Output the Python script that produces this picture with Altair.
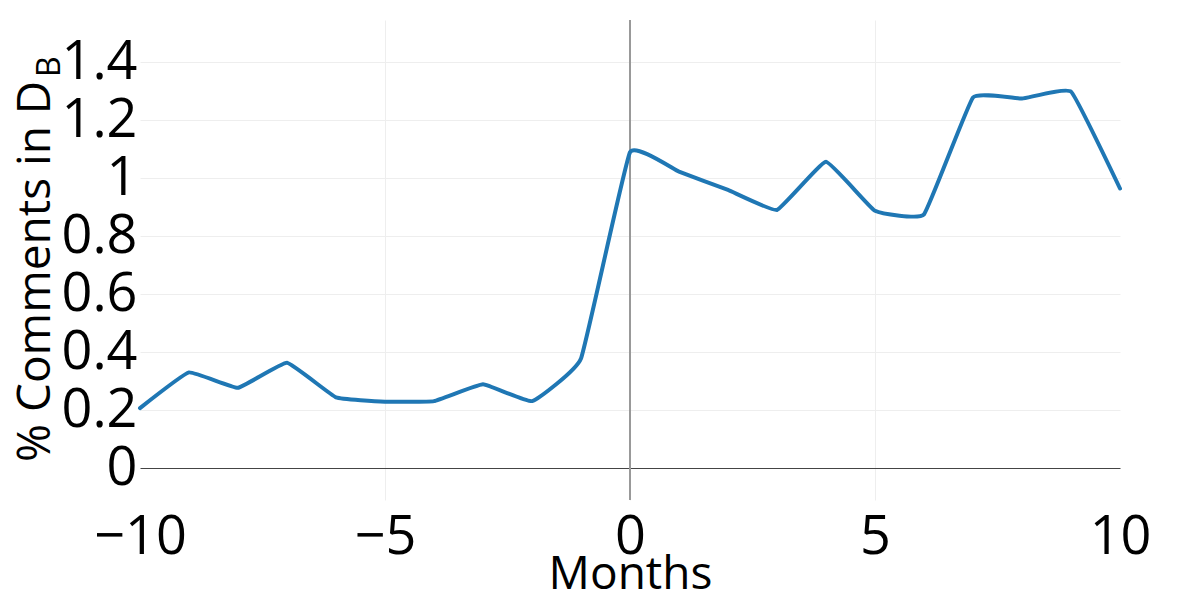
import altair as alt
import pandas as pd

# ---- data ----
months = list(range(-10, 11))
pct = [0.207, 0.330, 0.277, 0.363, 0.244, 0.229, 0.231, 0.289, 0.231, 0.378,
       1.089, 1.022, 0.959, 0.890, 1.056, 0.887, 0.875, 1.278, 1.274, 1.298, 0.964]
x_ticks = [-10, -5, 0, 5, 10]
y_ticks = [0, 0.2, 0.4, 0.6, 0.8, 1.0, 1.2, 1.4]
x_title = "Months"
y_title = "% Comments in D"
y_title_sub = "B"
event_month = [0]

df = pd.DataFrame({"month": months, "pct": pct})
ref_df = pd.DataFrame({"month": event_month})
ytitle_df = pd.DataFrame({"t": [y_title]})
ysub_df = pd.DataFrame({"t": [y_title_sub]})

FONT = "Open Sans"

x_scale = alt.Scale(domain=[-10, 10], nice=False, zero=False)
y_scale = alt.Scale(domain=[-0.11, 1.545], nice=False, zero=False)

x_axis = alt.Axis(
    values=x_ticks, title=x_title, domain=False, ticks=False,
    labelFontSize=54, labelPadding=10, labelColor="#000", labelFlush=False,
    labelOverlap=False, labelFont=FONT,
    grid=True,
    gridColor={"condition": {"test": "abs(datum.value) >= 10", "value": "transparent"},
               "value": "#eeeeee"},
    gridWidth=1,
    titleFontSize=46, titleFontWeight="normal", titleColor="#000", titleFont=FONT,
    titleY=88, titleBaseline="alphabetic",
)

y_axis = alt.Axis(
    values=y_ticks, title=None, domain=False, ticks=False, format=".1~f",
    labelFontSize=54, labelPadding=3, labelColor="#000", labelFlush=False,
    labelOverlap=False, labelFont=FONT,
    grid=True,
    gridColor={"condition": {"test": "datum.value == 0", "value": "#444444"},
               "value": "#eeeeee"},
    gridWidth=1,
)

base_x = alt.X("month:Q", scale=x_scale, axis=x_axis)

rule = alt.Chart(ref_df).mark_rule(color="#999999", strokeWidth=2).encode(
    x=alt.X("month:Q", scale=x_scale)
)

line = alt.Chart(df).mark_line(
    color="#1f77b4", strokeWidth=4, interpolate="cardinal", tension=0.7,
    strokeJoin="round", strokeCap="round"
).encode(
    x=base_x,
    y=alt.Y("pct:Q", scale=y_scale, axis=y_axis),
)

ytext = alt.Chart(ytitle_df).mark_text(
    angle=270, align="left", baseline="alphabetic", fontSize=46, font=FONT, color="#000"
).encode(text="t:N", x=alt.value(-90), y=alt.value(442))

ysub = alt.Chart(ysub_df).mark_text(
    angle=270, align="left", baseline="alphabetic", fontSize=32, font=FONT, color="#000"
).encode(text="t:N", x=alt.value(-80), y=alt.value(57))

chart = alt.layer(rule, line, ytext, ysub).properties(
    width=980, height=480, autosize="none",
    padding={"left": 132, "top": 12, "right": 72, "bottom": 92},
).configure(font=FONT, background="white").configure_view(stroke=None)

chart.save("out.html", embed_options={"renderer": "svg", "actions": False})
